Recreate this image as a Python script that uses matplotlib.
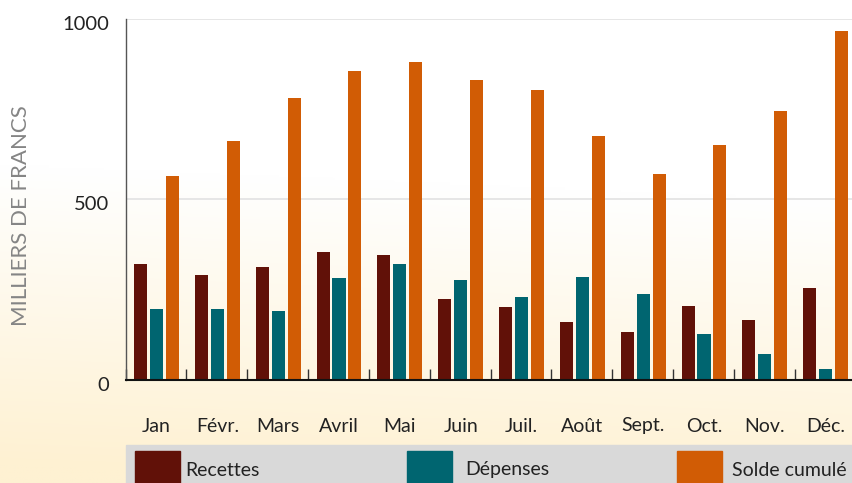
import numpy as np
import matplotlib
matplotlib.use("Agg")
from matplotlib import pyplot as plt
from matplotlib import patches
from matplotlib import transforms

plt.rcParams['font.family'] = ['Lato', 'DejaVu Sans']

# data (milliers de francs)
mois = ["Jan", "Févr.", "Mars", "Avril", "Mai", "Juin",
        "Juil.", "Août", "Sept.", "Oct.", "Nov.", "Déc."]
recettes = [321, 290, 312, 354, 346, 224, 202, 160, 133, 205, 166, 254]
depenses = [196, 196, 191, 282, 321, 276, 229, 285, 238, 127, 72, 30]
solde = [564, 661, 780, 854, 879, 829, 802, 675, 570, 650, 744, 965]

series = ["Recettes", "Dépenses", "Solde cumulé"]
colors = ["#611108", "#006570", "#d15c05"]

W, H = 853, 483
fig = plt.figure(figsize=(W / 100, H / 100), dpi=100)

# background gradient: white at top, cream at the bottom
bg = fig.add_axes([0, 0, 1, 1], zorder=-2)
yy, xx = np.mgrid[0:1:200j, 0:1:200j]
t = np.clip((yy - 0.38) / 0.62 + 0.12 * (0.5 - xx), 0, 1)
top = np.array([1.0, 1.0, 1.0])
bot = np.array([0xfe, 0xf1, 0xd2]) / 255
img = top[None, None, :] * (1 - t[..., None]) + bot[None, None, :] * t[..., None]
bg.imshow(img, aspect="auto", extent=[0, 1, 0, 1], origin="upper")
bg.axis("off")

x0, x1 = 125.6, 855.6
y0, y1 = 380, 18.5
ax = fig.add_axes([x0 / W, (H - y0) / H, (x1 - x0) / W, (y0 - y1) / H])
ax.patch.set_alpha(0)

x = np.arange(len(mois)) + 0.508
width = 0.215
offsets = [-0.262, 0, 0.262]
for vals, c, off in zip([recettes, depenses, solde], colors, offsets):
    ax.bar(x + off, vals, width=width, color=c, zorder=3)

ax.set_xlim(0, len(mois))
ax.set_ylim(0, 1000)
ax.set_yticks([0, 500, 1000])
ax.set_yticklabels(["0", "500", "1000"], fontsize=14.5, color="#222222")
ax.tick_params(axis="y", length=0, pad=12)
shift = transforms.ScaledTranslation(0, -4 / 100, fig.dpi_scale_trans)
for lab in ax.get_yticklabels():
    lab.set_transform(lab.get_transform() + shift)
ax.yaxis.grid(True, color="#e2e2e2", linewidth=1.2, zorder=0)

ax.set_xticks(np.arange(len(mois) + 1))
ax.set_xticklabels([])
ax.set_xticks(x, minor=True)
ax.set_xticklabels(mois, minor=True, fontsize=14, color="#222222")
ax.tick_params(axis="x", which="major", direction="in", length=8,
               width=1, color="#333333")
ax.tick_params(axis="x", which="minor", length=0, pad=27)

for s in ["top", "right"]:
    ax.spines[s].set_visible(False)
ax.spines["left"].set_color("#555555")
ax.spines["left"].set_linewidth(1)
ax.spines["bottom"].set_color("#111111")
ax.spines["bottom"].set_linewidth(1.5)
ax.spines["bottom"].set_zorder(4)

fig.text(21 / W, 1 - 216 / H, "MILLIERS DE FRANCS", rotation=90,
         ha="center", va="center", fontsize=16, color="#858585")

# legend band along the bottom
band = patches.Rectangle((126 / W, 0), (W - 126) / W, (H - 445) / H,
                         transform=fig.transFigure, color="#d9d9d9",
                         zorder=1)
fig.patches.append(band)
sw_x = [135, 407, 677]
tx_x = [185, 465, 732]
for name, c, sx, tx in zip(series, colors, sw_x, tx_x):
    sw = patches.Rectangle((sx / W, 0), 45 / W, (H - 451) / H,
                           transform=fig.transFigure, color=c, zorder=2)
    fig.patches.append(sw)
    fig.text(tx / W, 1 - 470 / H, name, ha="left", va="center",
             fontsize=14, color="#222222")

fig.savefig("out.png", dpi=100)
